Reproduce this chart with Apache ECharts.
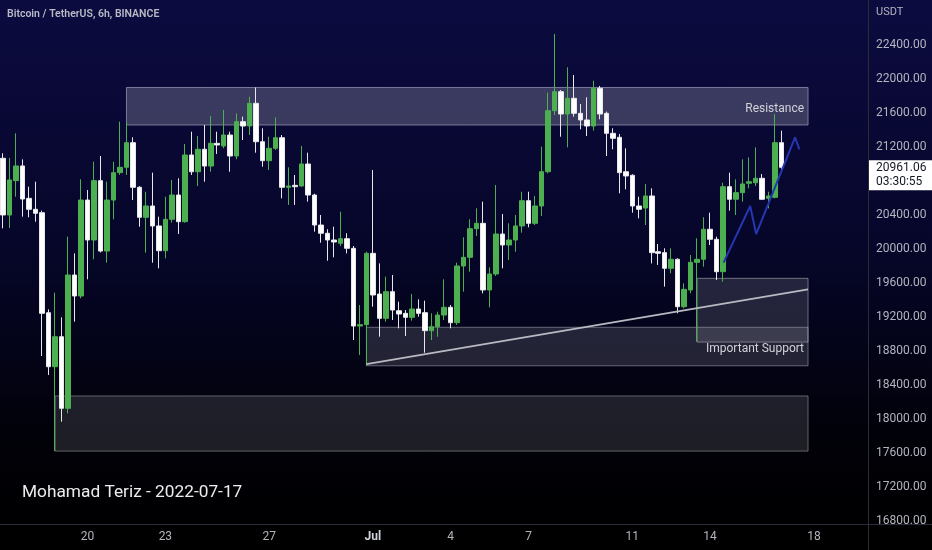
<!DOCTYPE html>
<html><head><meta charset="utf-8">
<script src="https://cdn.jsdelivr.net/npm/echarts@6/dist/echarts.min.js"></script>
<style>html,body{margin:0;padding:0;background:#000}#c{width:932px;height:550px}</style>
</head><body><div id="c"></div>
<script>
// ---- data (BTC/USDT 6h candles, first = 2022-06-16 18:00 UTC) ----
const startTime = Date.UTC(2022, 5, 16, 18);
const candleHours = 6;
const slotCount = 134;
const opens = [21067,20400,20804,20977,20596,20467,20427,19250,18615,18968,18126,19694,19447,20576,20106,20804,19976,20576,20898,20961,
21251,20726,20373,20506,20271,19980,20349,20635,20321,21106,20909,21173,20976,21243,21212,21341,21094,21498,21447,21714,
21262,21039,21185,21309,20726,20749,20741,21000,20635,20282,20185,20106,20067,20121,20008,19094,19110,19949,19470,19184,
19498,19274,19243,19196,19294,19251,19039,19086,19223,19314,19133,19800,19902,20239,20302,19518,19706,20176,20047,20106,
20271,20568,20302,20506,20909,21627,21851,21588,21773,21596,21518,21447,21891,21596,21361,21314,20909,20867,20506,20482,
20624,19968,19957,19773,19879,19321,19518,19843,19879,20232,20114,19733,20733,20585,20663,20773,20780,20832,20596,20608,21251];
const closes = [20400,20812,20977,20588,20467,20420,19243,18615,18968,18126,19694,19447,20576,20106,20804,19976,20576,20898,20961,21251,
20726,20373,20506,20271,19980,20349,20635,20321,21106,20909,21173,20976,21243,21224,21341,21094,21498,21447,21714,21262,
21039,21185,21309,20726,20741,20733,21000,20635,20282,20185,20106,20082,20121,20008,19094,19110,19949,19459,19184,19498,
19282,19235,19196,19294,19243,19039,19086,19223,19314,19133,19800,19902,20239,20302,19518,19706,20176,20047,20106,20271,
20568,20302,20506,20909,21627,21851,21588,21773,21596,21518,21447,21891,21588,21361,21302,20898,20859,20506,20467,20624,
19957,19949,19773,19879,19321,19525,19843,19879,20232,20114,19733,20733,20585,20663,20765,20792,20832,20585,20624,21251,20961.06];
const lows = [20243,20247,20615,20380,20373,20321,18741,18518,17622,17968,18067,19145,19420,19643,19879,19960,19839,20349,20871,20871,
20576,20262,19957,19839,19773,19890,20310,20176,20310,20871,20741,20792,20909,21118,21185,20909,21055,21282,21341,21133,
20968,20929,21165,20596,20518,20518,20733,20557,20204,20074,19862,19902,20035,19949,18929,18753,18626,19321,18968,19145,
19165,19067,18976,19157,19204,18780,18929,18968,19165,19067,19106,19498,19733,20153,19478,19314,19682,19773,19871,19968,
20192,20255,20282,20388,20890,21576,21321,21196,21557,21408,21329,21392,21526,21094,21173,20655,20702,20427,20361,20282,
19830,19812,19557,19714,19243,19302,19478,18910,19792,20047,19635,19615,20451,20400,20557,20714,20741,20576,20478,20596,20921];
const highs = [21126,21071,21361,21055,20733,20792,20451,19290,19486,19196,20145,19949,20820,20694,21027,21094,20792,21027,21498,21494,
21314,20740,20674,20898,20380,20615,20812,20832,21235,21380,21329,21459,21565,21380,21635,21380,21596,21557,21792,21900,
21420,21321,21549,21341,20961,20871,21212,21133,20650,20400,20232,20262,20439,20185,20035,19341,19968,20929,19831,19674,
19694,19380,19282,19471,19408,19392,19243,19262,19643,19341,19839,20138,20349,20479,20557,19785,20753,20412,20302,20400,
20674,20674,20624,21204,21839,22529,21871,22138,22047,21706,21785,21980,21918,21616,21420,21353,21185,20880,20615,20765,
20714,20059,20008,20008,19890,19596,19929,20126,20373,20427,20145,20780,20898,20820,21055,21078,21196,20882,20674,21588,21392];
const yTicks = [16800,17200,17600,18000,18400,18800,19200,19600,20000,20400,20800,21200,21600,22000,22400];
const xTickLabels = {'06-20 00':'20','06-23 00':'23','06-27 00':'27','07-01 00':'Jul','07-04 00':'4','07-07 00':'7','07-11 00':'11','07-14 00':'14','07-18 00':'18'};
// annotation zones: [fromIndex, toIndex, lowPrice, highPrice]
const zoneResistance = [19, 124.1, 21459, 21900];
const zoneSupport = [56, 124.1, 18626, 19079];
const zoneSupportUpper = [107, 124.1, 18905, 19655];
const zoneBottom = [8, 124.1, 17622, 18271];
const trendLine = [[56, 18645], [124.1, 19526]];
const projection = [[111.07, 19839], [115.18, 20506], [116.1, 20176], [122.1, 21314], [122.77, 21173]];
const countdown = '03:30:55';

// ---- chart ----
const pad = n => String(n).padStart(2, '0');
const categories = [];
for (let i = 0; i < slotCount; i++) {
  const d = new Date(startTime + i * candleHours * 3600e3);
  categories.push(pad(d.getUTCMonth() + 1) + '-' + pad(d.getUTCDate()) + ' ' + pad(d.getUTCHours()));
}
const ohlc = opens.map((o, i) => [o, closes[i], lows[i], highs[i]]);
const yMax = 22929.4, yMin = 16764.6;
const AX = '#b2b5be';
const FONT = 'Roboto, "Noto Sans", sans-serif';

function zoneSeries(zone, fill, stroke, label, labelDy) {
  return {
    type: 'custom', xAxisIndex: 1, yAxisIndex: 0, z: 1, silent: true,
    data: [zone],
    renderItem(params, api) {
      const a = api.coord([api.value(0), api.value(3)]);
      const b = api.coord([api.value(1), api.value(2)]);
      const children = [{
        type: 'rect',
        shape: { x: a[0], y: a[1], width: b[0] - a[0], height: b[1] - a[1] },
        style: { fill: fill, stroke: stroke, lineWidth: 1 }
      }];
      if (label) {
        children.push({
          type: 'text',
          style: { text: label, x: b[0] - 4, y: (a[1] + b[1]) / 2 + labelDy, align: 'right', verticalAlign: 'middle',
                   fill: '#d2d2da', font: '12px ' + FONT }
        });
      }
      return { type: 'group', children };
    }
  };
}

const chart = echarts.init(document.getElementById('c'));
chart.setOption({
  animation: false,
  backgroundColor: {
    type: 'linear', x: 0, y: 0, x2: 0, y2: 1,
    colorStops: [{ offset: 0, color: '#0c0b40' }, { offset: 0.45, color: '#06062a' }, { offset: 0.8, color: '#010108' }, { offset: 1, color: '#000000' }]
  },
  grid: { left: -1.65, right: 63, top: 0, bottom: 26 },
  xAxis: [
    {
      type: 'category', data: categories, boundaryGap: true,
      axisLine: { show: false }, axisTick: { show: false }, splitLine: { show: false },
      axisLabel: {
        interval: 0, margin: 7, color: AX, fontSize: 12, fontFamily: FONT,
        formatter: v => { const t = xTickLabels[v]; if (!t) return ''; return t === 'Jul' ? '{m|Jul}' : t; },
        rich: { m: { fontWeight: 'bold', color: '#d1d4dc', fontSize: 12, fontFamily: FONT } }
      }
    },
    { type: 'value', min: -0.5, max: slotCount - 0.5, show: false }
  ],
  yAxis: {
    type: 'value', position: 'right', min: yMin, max: yMax, scale: true,
    axisLine: { show: false }, axisTick: { show: false }, splitLine: { show: false },
    axisLabel: { customValues: yTicks, formatter: v => v.toFixed(2), color: AX, fontSize: 12, fontFamily: FONT, margin: 7 }
  },
  series: [
    zoneSeries(zoneBottom, 'rgba(150,150,160,0.2)', 'rgba(150,150,160,0.6)', null, 0),
    zoneSeries(zoneSupport, 'rgba(150,150,165,0.22)', 'rgba(170,170,180,0.55)', 'Important Support', 2.5),
    zoneSeries(zoneSupportUpper, 'rgba(160,160,170,0.2)', 'rgba(170,170,180,0.6)', null, 0),
    zoneSeries(zoneResistance, 'rgba(180,180,195,0.29)', 'rgba(150,150,180,0.75)', 'Resistance', 2.5),
    {
      type: 'candlestick', data: ohlc, barWidth: 5, z: 3,
      itemStyle: { color: '#4caf50', color0: '#ffffff', borderColor: '#4caf50', borderColor0: '#e8e8ea', borderWidth: 1 }
    },
    {
      type: 'line', xAxisIndex: 1, data: trendLine, symbol: 'none', z: 4, silent: true,
      lineStyle: { color: '#b9b9c2', width: 1.8 }
    },
    {
      type: 'line', xAxisIndex: 1, data: projection, symbol: 'none', z: 4, silent: true,
      lineStyle: { color: '#2536b0', width: 2 }
    }
  ]
});

const lastY = chart.convertToPixel({ yAxisIndex: 0 }, closes[closes.length - 1]);
chart.setOption({
  graphic: [
    { type: 'line', shape: { x1: 0, y1: 524.5, x2: 932, y2: 524.5 }, style: { stroke: '#2a2c36', lineWidth: 1 }, z: 10 },
    { type: 'line', shape: { x1: 868.5, y1: 0, x2: 868.5, y2: 550 }, style: { stroke: '#2a2c36', lineWidth: 1 }, z: 10 },
    { type: 'text', left: 7, top: 9, style: { text: 'Bitcoin / TetherUS, 6h, BINANCE', fill: '#b8bbc6', font: '600 10.5px ' + FONT }, z: 10 },
    { type: 'text', left: 876, top: 7, style: { text: 'USDT', fill: AX, font: '11px ' + FONT }, z: 10 },
    { type: 'text', left: 22, top: 484, style: { text: 'Mohamad Teriz - 2022-07-17', fill: '#ececec', font: '17.3px ' + FONT }, z: 10 },
    { type: 'rect', shape: { x: 869, y: lastY - 7, width: 63, height: 30 }, style: { fill: '#ffffff' }, z: 10 },
    { type: 'text', left: 876, top: lastY - 5, style: { text: closes[closes.length - 1].toFixed(2), fill: '#131722', font: '12px ' + FONT }, z: 11 },
    { type: 'text', left: 876, top: lastY + 9, style: { text: countdown, fill: '#131722', font: '12px ' + FONT }, z: 11 }
  ]
});
</script></body></html>
